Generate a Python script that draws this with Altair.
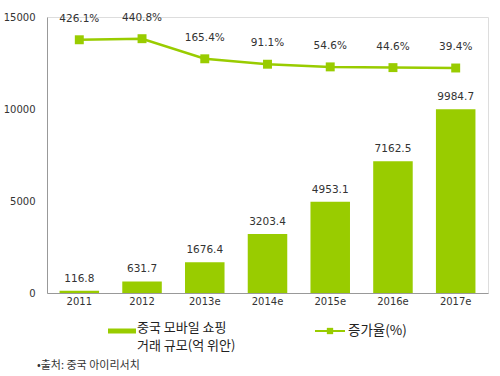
import altair as alt
import pandas as pd

years = ["2011", "2012", "2013e", "2014e", "2015e", "2016e", "2017e"]
volume = [116.8, 631.7, 1676.4, 3203.4, 4953.1, 7162.5, 9984.7]
growth = [426.1, 440.8, 165.4, 91.1, 54.6, 44.6, 39.4]
y_ticks = [0, 5000, 10000, 15000]

df = pd.DataFrame({"year": years, "volume": volume, "growth": growth})
df["vol_label"] = [f"{v:.1f}" for v in volume]
df["g_label"] = [f"{g:.1f}%" for g in growth]

GREEN = "#99CC00"
TXT = "#333333"
NUM_FONT = "DejaVu Sans"
KR_FONT = "Noto Sans CJK KR"

x_enc = alt.X("year:N", sort=years, title=None,
              scale=alt.Scale(paddingInner=0.37, paddingOuter=0.2),
              axis=alt.Axis(labelAngle=0, ticks=False, domainColor="#999999",
                            labelFont=NUM_FONT, labelFontSize=10, labelColor=TXT,
                            labelPadding=3))

base = alt.Chart(df)
vscale = alt.Scale(domain=[0, 15000], nice=False)

bars = base.mark_bar(color=GREEN).encode(
    x=x_enc,
    y=alt.Y("volume:Q", title=None, scale=vscale,
            axis=alt.Axis(values=y_ticks, format="d", grid=False, ticks=False,
                          domainColor="#999999",
                          labelFont=NUM_FONT, labelFontSize=10, labelColor=TXT,
                          labelPadding=12)),
)
bar_text = base.mark_text(dy=-12, font=NUM_FONT, fontSize=10.5, color=TXT).encode(
    x=alt.X("year:N", sort=years),
    y=alt.Y("volume:Q"),
    text="vol_label:N",
)
bar_layer = alt.layer(bars, bar_text)

gscale = alt.Scale(domain=[-3043, 738], nice=False, zero=False)
line = base.mark_line(color=GREEN, strokeWidth=2.5).encode(
    x=alt.X("year:N", sort=years),
    y=alt.Y("growth:Q", scale=gscale, axis=None),
)
pts = base.mark_square(color=GREEN, size=80, opacity=1).encode(
    x=alt.X("year:N", sort=years),
    y=alt.Y("growth:Q"),
)
g_text = base.mark_text(dy=-21, font=NUM_FONT, fontSize=10.5, color=TXT).encode(
    x=alt.X("year:N", sort=years),
    y=alt.Y("growth:Q"),
    text="g_label:N",
)
line_layer = alt.layer(line, pts, g_text)

one = alt.Chart(pd.DataFrame({"k": [0]}))
leg_bar = one.mark_rule(color=GREEN, strokeWidth=5).encode(
    x=alt.value(61), x2=alt.value(89), y=alt.value(314))
leg_bar_t = one.mark_text(align="left", baseline="top", font=KR_FONT, fontSize=13,
                          lineHeight=18, color="#222222").encode(
    x=alt.value(90), y=alt.value(305),
    text=alt.value(["중국 모바일 쇼핑", "거래 규모(억 위안)"]))
leg_line = one.mark_rule(color=GREEN, strokeWidth=2).encode(
    x=alt.value(268), x2=alt.value(298), y=alt.value(314))
leg_sq = one.mark_square(color=GREEN, size=40, opacity=1).encode(
    x=alt.value(283), y=alt.value(314))
leg_line_t = one.mark_text(align="left", baseline="middle", font=KR_FONT, fontSize=13.5,
                           color="#222222").encode(x=alt.value(301), y=alt.value(314),
                                                   text=alt.value("증가율(%)"))
foot = one.mark_text(align="left", baseline="middle", font=KR_FONT, fontSize=11,
                     color=TXT).encode(x=alt.value(-10), y=alt.value(349),
                                       text=alt.value("•출처: 중국 아이리서치"))

chart = alt.layer(
    bar_layer, line_layer,
    leg_bar, leg_bar_t, leg_line, leg_sq, leg_line_t, foot,
).resolve_scale(y="independent").properties(
    width=441, height=276,
    autosize=alt.AutoSizeParams(type="none"),
    padding={"left": 47, "top": 17, "right": 12, "bottom": 83},
).configure_view(stroke=None).configure(background="white")

chart.save("out.html", embed_options={"renderer": "svg", "actions": False})
